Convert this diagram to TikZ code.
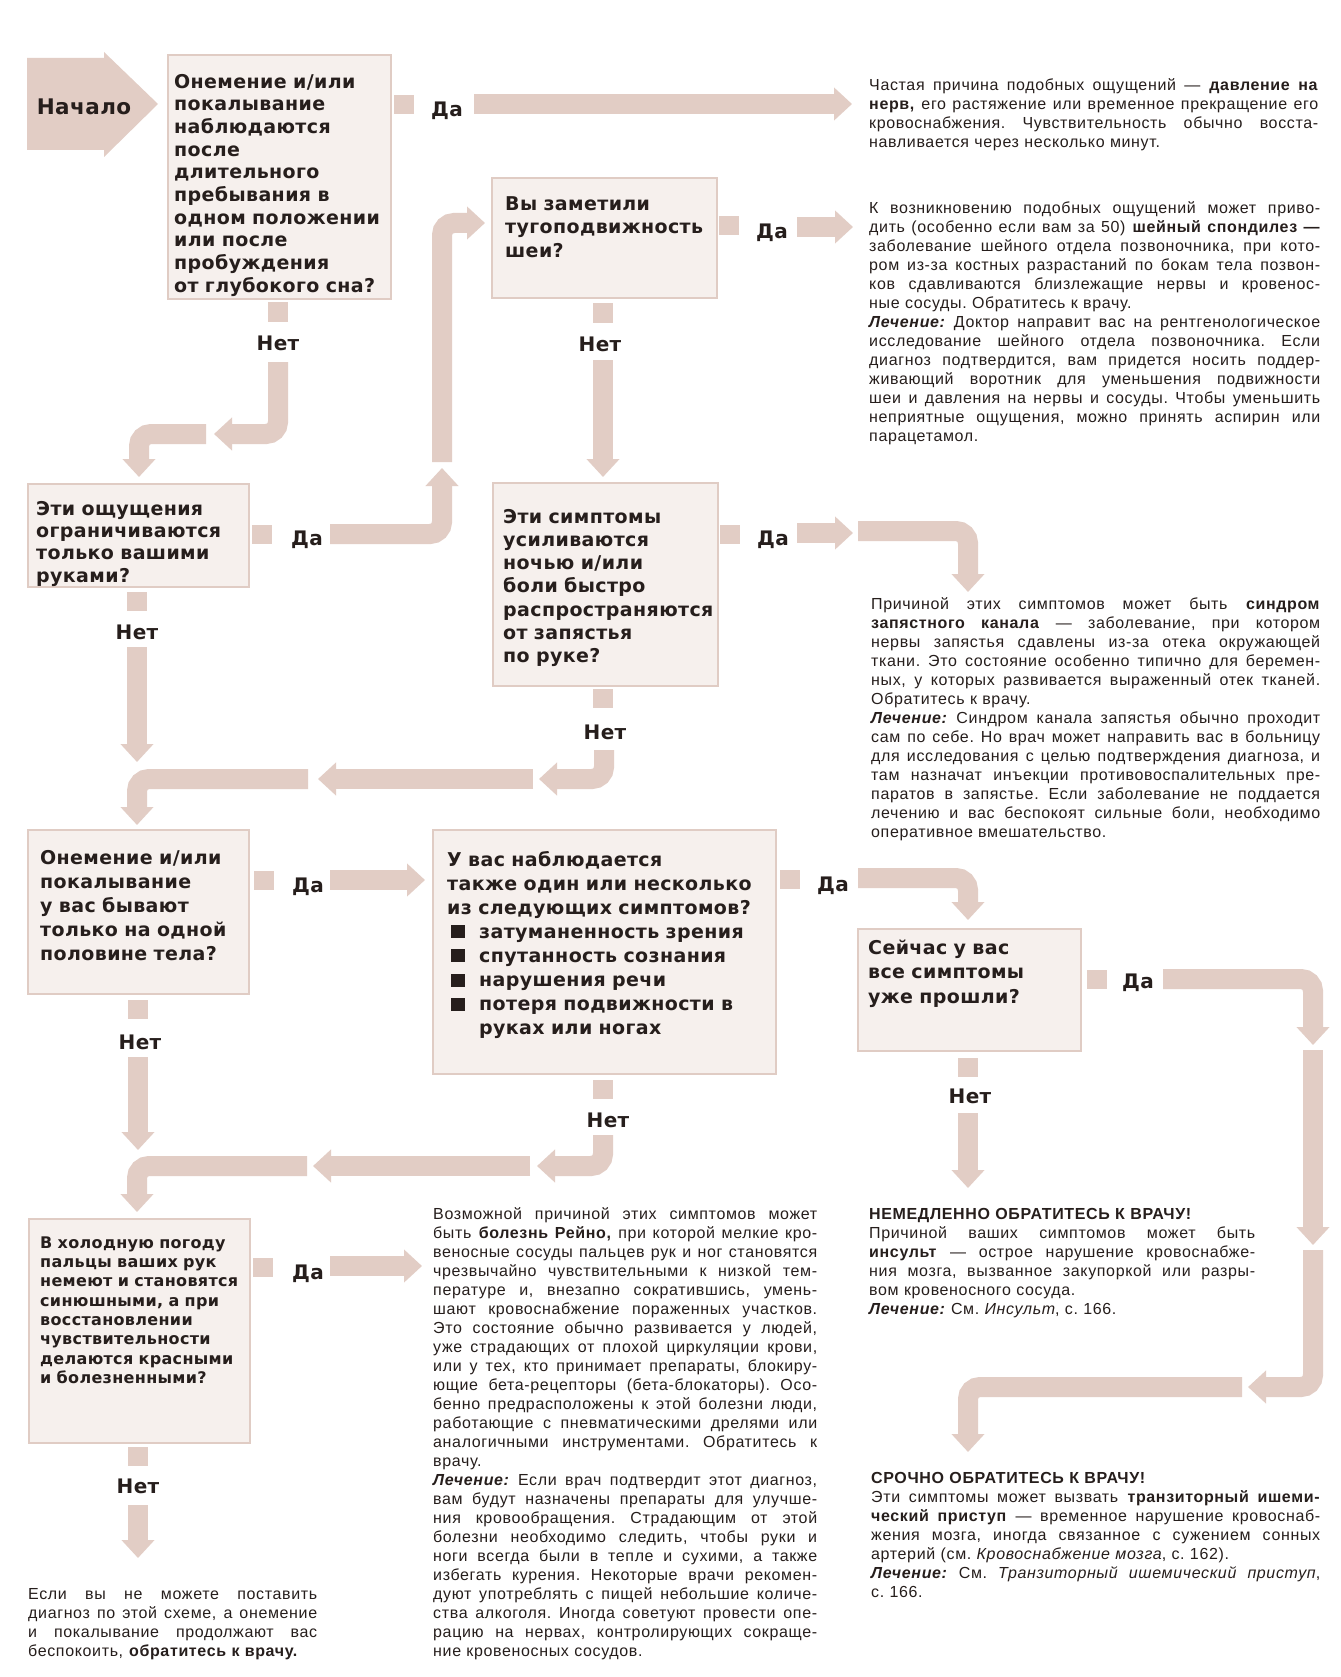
\documentclass[tikz,border=0pt]{standalone}
\usepackage{fontspec}
\setmainfont{Liberation Sans}
\newfontfamily\notefam[LetterSpace=4]{Liberation Sans}
\newfontfamily\qfam[LetterSpace=2]{DejaVu Sans}
\usetikzlibrary{positioning, arrows.meta}

\definecolor{arrowcol}{RGB}{226,205,197}
\definecolor{boxfill}{RGB}{246,240,237}
\definecolor{boxline}{RGB}{224,204,196}
\definecolor{ink}{RGB}{38,30,28}

\newcommand\qfont[1]{\qfam\bfseries\fontsize{19}{#1}\selectfont}
\newcommand\notefont{\notefam\fontsize{16}{19}\selectfont\frenchspacing}
\newcommand\ynfont{\qfam\bfseries\fontsize{20}{24}\selectfont}
\newcommand\jl[1]{\makebox[\hsize][s]{\spaceskip=0pt\xspaceskip=0pt #1}\par}
\newcommand\lech{\textbf{\textit{Лечение:}}}
\newcommand\sqb{\hspace*{4pt}\rule{14pt}{13pt}\hspace{14pt}}

\begin{document}
\begin{tikzpicture}[x=1pt, y=-1pt,
  qbox/.style = {draw=boxline, fill=boxfill, line width=1.6pt, anchor=north west, inner sep=0pt},
  qtext/.style = {anchor=north west, inner sep=0pt, text width=330pt, align=left, text=ink, execute at begin node=\strut},
  note/.style = {anchor=north west, inner sep=0pt, text width=#1, text=ink, font=\notefont, execute at begin node=\strut},
  stub/.style = {fill=arrowcol, minimum width=20pt, minimum height=19pt, inner sep=0pt},
  yn/.style = {anchor=base, inner sep=0pt, text=ink, font=\ynfont},
  startlbl/.style = {anchor=base, inner sep=0pt, text=ink, font=\qfam\bfseries\fontsize{21.5}{26}\selectfont},
  fat/.style = {draw=arrowcol, line width=20pt, rounded corners=12pt, -{Triangle[width=32pt,length=18pt]}}
]
\fill[white] (0,0) rectangle (1340,1677);
\useasboundingbox (0,0) rectangle (1340,1677);

% Start
\fill[arrowcol] (27,58) -- (104,58) -- (104,52) -- (158,104) -- (104,157) -- (104,150) -- (27,150) -- cycle;
\node[startlbl] (start) at (84,115) {Начало};

% Question boxes
\node[qbox, minimum width=223pt, minimum height=244pt] (q1) at (167,54) {};
\node[qtext, font=\qfont{22.7}] (q1t) at (174,72) {Онемение и/или\\покалывание\\наблюдаются\\после\\длительного\\пребывания в\\одном положении\\или после\\пробуждения\\от глубокого сна?};

\node[qbox, minimum width=225pt, minimum height=120pt] (q2) at (491,177) {};
\node[qtext, font=\qfont{23.5}] (q2t) at (505,193.5) {Вы заметили\\тугоподвижность\\шеи?};

\node[qbox, minimum width=221pt, minimum height=103pt] (q3) at (27,483) {};
\node[qtext, font=\qfont{22.3}] (q3t) at (36,499.4) {Эти ощущения\\ограничиваются\\только вашими\\руками?};

\node[qbox, minimum width=225pt, minimum height=203pt] (q4) at (492,482) {};
\node[qtext, font=\qfont{23.2}] (q4t) at (503,506.8) {Эти симптомы\\усиливаются\\ночью и/или\\боли быстро\\распространяются\\от запястья\\по руке?};

\node[qbox, minimum width=221pt, minimum height=164pt] (q5) at (27,829) {};
\node[qtext, font=\qfont{24.2}] (q5t) at (40,847) {Онемение и/или\\покалывание\\у вас бывают\\только на одной\\половине тела?};

\node[qbox, minimum width=343pt, minimum height=244pt] (q6) at (432,829) {};
\node[qtext, font=\qfont{24.1}] (q6t) at (447,849) {У вас наблюдается\\также один или несколько\\из следующих симптомов?\\\sqb затуманенность зрения\\\sqb спутанность сознания\\\sqb нарушения речи\\\sqb потеря подвижности в\\\hspace*{32pt}руках или ногах};

\node[qbox, minimum width=221pt, minimum height=224pt] (q7) at (28,1218) {};
\node[qtext, font={\qfam\bfseries\fontsize{16}{19.3}\selectfont}] (q7t) at (40,1234.5) {В холодную погоду\\пальцы ваших рук\\немеют и становятся\\синюшными, а при\\восстановлении\\чувствительности\\делаются красными\\и болезненными?};

\node[qbox, minimum width=223pt, minimum height=122pt] (q8) at (857,928) {};
\node[qtext, font=\qfont{24.5}] (q8t) at (868,937) {Сейчас у вас\\все симптомы\\уже прошли?};

% Yes / no stubs and labels
\node[stub] (m1y) at (404,105) {};  \node[yn] (l1y) at (447,116.7) {Да};
\node[stub] (m1n) at (278,312) {};  \node[yn] (l1n) at (278,350) {Нет};
\node[stub] (m2y) at (729,226) {};  \node[yn] (l2y) at (772,239) {Да};
\node[stub] (m2n) at (603,313) {};  \node[yn] (l2n) at (600,351) {Нет};
\node[stub] (m3y) at (262,534) {};  \node[yn] (l3y) at (307,545) {Да};
\node[stub] (m3n) at (137,601) {};  \node[yn] (l3n) at (137,639) {Нет};
\node[stub] (m4y) at (730,534) {};  \node[yn] (l4y) at (773,545) {Да};
\node[stub] (m4n) at (603,698) {};  \node[yn] (l4n) at (605,739) {Нет};
\node[stub] (m5y) at (264,880) {};  \node[yn] (l5y) at (308,892) {Да};
\node[stub] (m5n) at (138,1009) {}; \node[yn] (l5n) at (140,1049) {Нет};
\node[stub] (m6y) at (790,879) {};  \node[yn] (l6y) at (833,891) {Да};
\node[stub] (m6n) at (603,1089) {}; \node[yn] (l6n) at (608,1127) {Нет};
\node[stub] (m7y) at (263,1267) {}; \node[yn] (l7y) at (308,1279) {Да};
\node[stub] (m7n) at (138,1456) {}; \node[yn] (l7n) at (138,1493) {Нет};
\node[stub] (m8y) at (1097,979) {}; \node[yn] (l8y) at (1138,988) {Да};
\node[stub] (m8n) at (968,1067) {}; \node[yn] (l8n) at (970,1103) {Нет};

% Answer texts
\node[note=449pt] (t1) at (869,76.7) {%
\jl{Частая причина подобных ощущений — \textbf{давление на}}
\jl{\textbf{нерв,} его растяжение или временное прекращение его}
\jl{кровоснабжения. Чувствительность обычно восста-}
навливается через несколько минут.};

\node[note=451pt] (t2) at (869,199.7) {%
\jl{К возникновению подобных ощущений может приво-}
\jl{дить (особенно если вам за 50) \textbf{шейный спондилез —}}
\jl{заболевание шейного отдела позвоночника, при кото-}
\jl{ром из-за костных разрастаний по бокам тела позвон-}
\jl{ков сдавливаются близлежащие нервы и кровенос-}
ные сосуды. Обратитесь к врачу.\par
\jl{\lech{} Доктор направит вас на рентгенологическое}
\jl{исследование шейного отдела позвоночника. Если}
\jl{диагноз подтвердится, вам придется носить поддер-}
\jl{живающий воротник для уменьшения подвижности}
\jl{шеи и давления на нервы и сосуды. Чтобы уменьшить}
\jl{неприятные ощущения, можно принять аспирин или}
парацетамол.};

\node[note=449pt] (t3) at (871,595.7) {%
\jl{Причиной этих симптомов может быть \textbf{синдром}}
\jl{\textbf{запястного канала} — заболевание, при котором}
\jl{нервы запястья сдавлены из-за отека окружающей}
\jl{ткани. Это состояние особенно типично для беремен-}
\jl{ных, у которых развивается выраженный отек тканей.}
Обратитесь к врачу.\par
\jl{\lech{} Синдром канала запястья обычно проходит}
\jl{сам по себе. Но врач может направить вас в больницу}
\jl{для исследования с целью подтверждения диагноза, и}
\jl{там назначат инъекции противовоспалительных пре-}
\jl{паратов в запястье. Если заболевание не поддается}
\jl{лечению и вас беспокоят сильные боли, необходимо}
оперативное вмешательство.};

\node[note=384pt] (t4) at (433,1205.7) {%
\jl{Возможной причиной этих симптомов может}
\jl{быть \textbf{болезнь Рейно,} при которой мелкие кро-}
\jl{веносные сосуды пальцев рук и ног становятся}
\jl{чрезвычайно чувствительными к низкой тем-}
\jl{пературе и, внезапно сократившись, умень-}
\jl{шают кровоснабжение пораженных участков.}
\jl{Это состояние обычно развивается у людей,}
\jl{уже страдающих от плохой циркуляции крови,}
\jl{или у тех, кто принимает препараты, блокиру-}
\jl{ющие бета-рецепторы (бета-блокаторы). Осо-}
\jl{бенно предрасположены к этой болезни люди,}
\jl{работающие с пневматическими дрелями или}
\jl{аналогичными инструментами. Обратитесь к}
врачу.\par
\jl{\lech{} Если врач подтвердит этот диагноз,}
\jl{вам будут назначены препараты для улучше-}
\jl{ния кровообращения. Страдающим от этой}
\jl{болезни необходимо следить, чтобы руки и}
\jl{ноги всегда были в тепле и сухими, а также}
\jl{избегать курения. Некоторые врачи рекомен-}
\jl{дуют употреблять с пищей небольшие количе-}
\jl{ства алкоголя. Иногда советуют провести опе-}
\jl{рацию на нервах, контролирующих сокраще-}
ние кровеносных сосудов.};

\node[note=386pt] (t5) at (869,1205.5) {%
\textbf{НЕМЕДЛЕННО ОБРАТИТЕСЬ К ВРАЧУ!}\par
\jl{Причиной ваших симптомов может быть}
\jl{\textbf{инсульт} — острое нарушение кровоснабже-}
\jl{ния мозга, вызванное закупоркой или разры-}
вом кровеносного сосуда.\par
\lech{} См. \textit{Инсульт}, с. 166.};

\node[note=449pt] (t6) at (871,1469.7) {%
\textbf{СРОЧНО ОБРАТИТЕСЬ К ВРАЧУ!}\par
\jl{Эти симптомы может вызвать \textbf{транзиторный ишеми-}}
\jl{\textbf{ческий приступ} — временное нарушение кровоснаб-}
\jl{жения мозга, иногда связанное с сужением сонных}
артерий (см. \textit{Кровоснабжение мозга}, с. 162).\par
\jl{\lech{} См. \textit{Транзиторный ишемический приступ},}
с. 166.};

\node[note=289pt] (t7) at (28,1585.7) {%
\jl{Если вы не можете поставить}
\jl{диагноз по этой схеме, а онемение}
\jl{и покалывание продолжают вас}
беспокоить, \textbf{обратитесь к врачу.}};

% Arrow waypoints
\coordinate (y1a) at (474,104);   \coordinate (y1b) at (852,104);
\coordinate (n1a) at (278,362);   \coordinate (n1b) at (278,434);  \coordinate (n1c) at (214,434);
\coordinate (n1d) at (206,434);   \coordinate (n1e) at (139,434);  \coordinate (n1f) at (139,477);
\coordinate (y3a) at (330,534);   \coordinate (y3b) at (442,534);  \coordinate (y3c) at (442,468);
\coordinate (y3d) at (442,462);   \coordinate (y3e) at (442,223);  \coordinate (y3f) at (485,223);
\coordinate (y2a) at (797,227);   \coordinate (y2b) at (853,227);
\coordinate (n2a) at (603,360);   \coordinate (n2b) at (603,477);
\coordinate (n3a) at (137,647);   \coordinate (n3b) at (137,762);
\coordinate (y4a) at (797,533);   \coordinate (y4b) at (853,533);
\coordinate (y4c) at (858,531);   \coordinate (y4d) at (968,531);  \coordinate (y4e) at (968,592);
\coordinate (n4a) at (604,750);   \coordinate (n4b) at (604,779);  \coordinate (n4c) at (539,779);
\coordinate (n4d) at (533,779);   \coordinate (n4e) at (318,779);
\coordinate (n4f) at (308,779);   \coordinate (n4g) at (137,779);  \coordinate (n4h) at (137,825);
\coordinate (y5a) at (330,880);   \coordinate (y5b) at (425,880);
\coordinate (n5a) at (138,1057);  \coordinate (n5b) at (138,1150);
\coordinate (n5c) at (307,1166);  \coordinate (n5d) at (137,1166); \coordinate (n5e) at (137,1212);
\coordinate (y6a) at (858,878);   \coordinate (y6b) at (968,878);  \coordinate (y6c) at (968,920);
\coordinate (n6a) at (603,1135);  \coordinate (n6b) at (603,1166); \coordinate (n6c) at (537,1166);
\coordinate (n6d) at (530,1166);  \coordinate (n6e) at (313,1166);
\coordinate (y7a) at (330,1266);  \coordinate (y7b) at (422,1266);
\coordinate (n7a) at (138,1505);  \coordinate (n7b) at (138,1558);
\coordinate (y8a) at (1163,979);  \coordinate (y8b) at (1313,979); \coordinate (y8c) at (1313,1045);
\coordinate (y8d) at (1313,1050); \coordinate (y8e) at (1313,1245);
\coordinate (y8f) at (1313,1250); \coordinate (y8g) at (1313,1387); \coordinate (y8h) at (1248,1387);
\coordinate (y8i) at (1242,1387); \coordinate (y8j) at (968,1387); \coordinate (y8k) at (968,1452);
\coordinate (n8a) at (968,1113);  \coordinate (n8b) at (968,1188);

% Arrows
\draw[fat] (y1a) -- (y1b);
\draw[fat] (n1a) -- (n1b) -- (n1c);
\draw[fat] (n1d) -- (n1e) -- (n1f);
\draw[fat] (y3a) -- (y3b) -- (y3c);
\draw[fat] (y3d) -- (y3e) -- (y3f);
\draw[fat] (y2a) -- (y2b);
\draw[fat] (n2a) -- (n2b);
\draw[fat] (n3a) -- (n3b);
\draw[fat] (y4a) -- (y4b);
\draw[fat] (y4c) -- (y4d) -- (y4e);
\draw[fat] (n4a) -- (n4b) -- (n4c);
\draw[fat] (n4d) -- (n4e);
\draw[fat] (n4f) -- (n4g) -- (n4h);
\draw[fat] (y5a) -- (y5b);
\draw[fat] (n5a) -- (n5b);
\draw[fat] (n5c) -- (n5d) -- (n5e);
\draw[fat] (y6a) -- (y6b) -- (y6c);
\draw[fat] (n6a) -- (n6b) -- (n6c);
\draw[fat] (n6d) -- (n6e);
\draw[fat] (y7a) -- (y7b);
\draw[fat] (n7a) -- (n7b);
\draw[fat] (y8a) -- (y8b) -- (y8c);
\draw[fat] (y8d) -- (y8e);
\draw[fat] (y8f) -- (y8g) -- (y8h);
\draw[fat] (y8i) -- (y8j) -- (y8k);
\draw[fat] (n8a) -- (n8b);

\end{tikzpicture}
\end{document}
